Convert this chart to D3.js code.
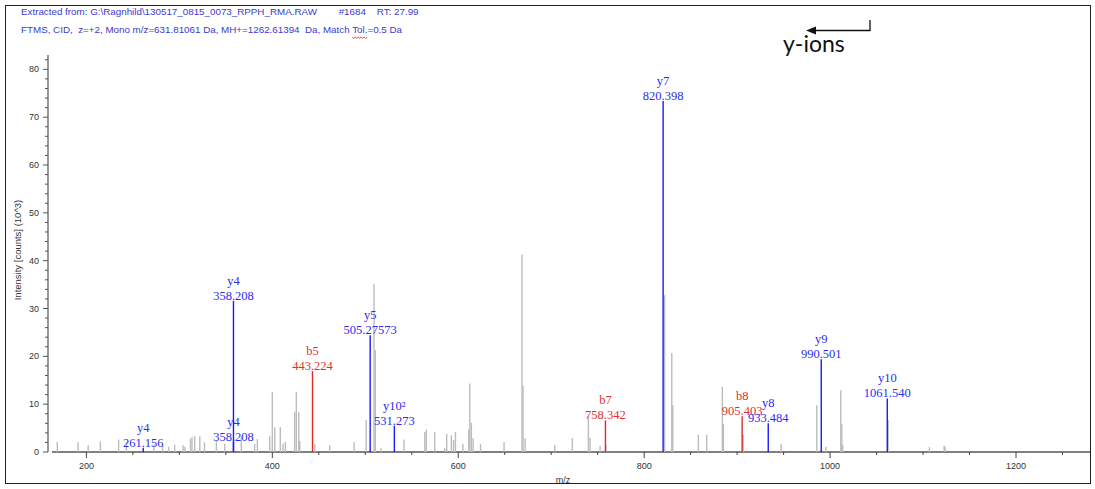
<!DOCTYPE html>
<html>
<head>
<meta charset="utf-8">
<script src="https://cdn.jsdelivr.net/npm/d3@7"></script>
<style>
  html, body { margin: 0; padding: 0; background: #fff; }
  svg { display: block; }
</style>
</head>
<body>
<svg id="chart" width="1095" height="489"></svg>
<script>
// Header lines of the spectrum view
const headerLines = [
  "Extracted from: G:\\Ragnhild\\130517_0815_0073_RPPH_RMA.RAW        #1684    RT: 27.99",
  "FTMS, CID,  z=+2, Mono m/z=631.81061 Da, MH+=1262.61394  Da, Match Tol.=0.5 Da"
];

// Unassigned peaks (m/z, intensity in 10^3 counts)
const peakMz = [168.7, 191, 202, 215, 234.7, 243, 272.7, 282, 288.5, 295, 304, 306, 312, 313.6, 316.5, 322, 327,
  339.8, 348.8, 366.6, 381, 383.9, 397.2, 400, 402.6, 408.6, 411.5, 414, 424, 425.8, 428.4, 429.5, 445.6,
  461.7, 488, 501, 509.4, 510.8, 517, 541.7, 564, 565.7, 574.7, 585.5, 587.6, 592.6, 595, 597, 605,
  611.3, 612.4, 614.1, 616, 624, 649.3, 668.6, 669.7, 672, 703.8, 722.7, 740, 741.8, 752.6, 758.8,
  822, 829.7, 830.8, 858.3, 867.3, 884.1, 885.2, 906.5, 947.3, 985.7, 995.4, 1011.5, 1012.6, 1013.6,
  1062.5, 1106.8, 1122.7, 1123.8];
const peakIntensity = [2.1, 2.1, 1.4, 2.2, 2.6, 2.1, 1.6, 1.4, 1.1, 1.5, 1.4, 1.1, 2.8, 3.1, 3.3, 3.3, 2.0,
  2.4, 1.7, 3.3, 1.7, 2.7, 3.3, 12.5, 5.2, 5.2, 1.7, 2.1, 8.4, 12.6, 8.4, 2.3, 1.7,
  1.4, 2.1, 6.7, 35.2, 21.3, 0.8, 2.6, 4.2, 4.7, 4.2, 0.8, 3.8, 3.5, 2.5, 4.2, 1.7,
  4.7, 14.3, 6.1, 2.9, 1.7, 2.1, 41.3, 13.8, 2.9, 1.4, 2.9, 7.6, 3.0, 1.3, 1.5,
  32.8, 20.7, 9.8, 3.6, 3.6, 13.6, 5.9, 3.6, 1.7, 9.8, 1.1, 12.9, 5.9, 1.5,
  6.7, 1.0, 1.3, 1.1];

// Assigned fragment ions
const ionNames = ["y4", "y4", "y4", "b5", "y5", "y10\u00B2", "b7", "y7", "b8", "y8", "y9", "y10"];
const ionMzText = ["261.156", "358.208", "358.208", "443.224", "505.27573", "531.273", "758.342", "820.398", "905.403", "933.484", "990.501", "1061.540"];
const ionMz = ionMzText.map(Number);
const ionIntensity = [0.9, 2.1, 31.6, 16.9, 24.4, 5.5, 6.6, 73.4, 7.5, 6.0, 19.4, 11.2];

// Axis ticks
const xTickValues = [200, 400, 600, 800, 1000, 1200];
const yTickValues = [0, 10, 20, 30, 40, 50, 60, 70, 80];

const svg = d3.select("#chart");

const x = d3.scaleLinear().domain([163, 1279.6]).range([52, 1090]);
const y = d3.scaleLinear().domain([0, 83]).range([452, 55]);

// outer frame
svg.append("rect")
  .attr("x", 5.5).attr("y", 5.5)
  .attr("width", 1085).attr("height", 478)
  .attr("fill", "none").attr("stroke", "#222").attr("stroke-width", 1);

// header
const header = svg.selectAll("text.header")
  .data(headerLines)
  .join("text")
  .attr("class", "header")
  .attr("x", 21)
  .attr("y", (d, i) => 15 + i * 18)
  .attr("font-family", "Liberation Sans, Arial, sans-serif")
  .attr("font-size", 9.8)
  .attr("fill", "#3a3ad0")
  .style("white-space", "pre")
  .attr("xml:space", "preserve")
  .text(d => d);

// spell-check squiggle under "Tol."
{
  const node = header.nodes()[1];
  const idx = headerLines[1].indexOf("Tol.");
  const x0 = node.getStartPositionOfChar(idx).x;
  const w = node.getSubStringLength(idx, 4);
  let p = `M${x0},37`;
  const n = Math.max(2, Math.round(w / 1.5));
  for (let i = 0; i < n; i++) p += ` l1.5,${i % 2 ? -1.4 : 1.4}`;
  svg.append("path").attr("d", p).attr("fill", "none").attr("stroke", "#e02020").attr("stroke-width", 0.8);
}

// "y-ions" note with arrow
svg.append("text")
  .attr("x", 783).attr("y", 52)
  .attr("font-family", "Lato, Open Sans, sans-serif")
  .attr("font-size", 23)
  .attr("fill", "#111")
  .text("y-ions");
svg.append("path")
  .attr("d", "M870,20 V30.5 H815")
  .attr("fill", "none").attr("stroke", "#111").attr("stroke-width", 1.3);
svg.append("path")
  .attr("d", "M806,30.5 L816,26.5 L816,34.5 Z")
  .attr("fill", "#111");

// y axis
const yAxisG = svg.append("g").attr("transform", "translate(48,0)");
yAxisG.append("line").attr("y1", 55).attr("y2", 452).attr("stroke", "#555").attr("stroke-width", 1.2);
yAxisG.selectAll("line.minor")
  .data(d3.range(0, 83, 2))
  .join("line")
  .attr("class", "minor")
  .attr("x1", d => d % 10 === 0 ? -5 : -3).attr("x2", 0)
  .attr("y1", d => y(d)).attr("y2", d => y(d))
  .attr("stroke", "#555").attr("stroke-width", 1);
yAxisG.selectAll("text")
  .data(yTickValues)
  .join("text")
  .attr("x", -9).attr("y", d => y(d) + 3)
  .attr("text-anchor", "end")
  .attr("font-family", "Liberation Sans, Arial, sans-serif")
  .attr("font-size", 9)
  .attr("fill", "#333")
  .text(d => d);

svg.append("text")
  .attr("transform", "translate(21,250) rotate(-90)")
  .attr("text-anchor", "middle")
  .attr("font-family", "Liberation Sans, Arial, sans-serif")
  .attr("font-size", 9.5)
  .attr("fill", "#333")
  .text("Intensity [counts] (10^3)");

// x axis
const xAxisG = svg.append("g");
xAxisG.append("line").attr("x1", 52).attr("x2", 1090).attr("y1", 452).attr("y2", 452)
  .attr("stroke", "#555").attr("stroke-width", 1.4);
xAxisG.selectAll("line.tick")
  .data(d3.range(200, 1280, 50))
  .join("line")
  .attr("class", "tick")
  .attr("x1", d => x(d)).attr("x2", d => x(d))
  .attr("y1", 452).attr("y2", d => d % 200 === 0 ? 458 : 455)
  .attr("stroke", "#444").attr("stroke-width", 1);
xAxisG.selectAll("text")
  .data(xTickValues)
  .join("text")
  .attr("x", d => x(d)).attr("y", 469)
  .attr("text-anchor", "middle")
  .attr("font-family", "Liberation Sans, Arial, sans-serif")
  .attr("font-size", 9)
  .attr("fill", "#333")
  .text(d => d);
svg.append("text")
  .attr("x", 563).attr("y", 483)
  .attr("text-anchor", "middle")
  .attr("font-family", "Liberation Sans, Arial, sans-serif")
  .attr("font-size", 9)
  .attr("fill", "#333")
  .text("m/z");

// unassigned peaks
svg.append("g").selectAll("line")
  .data(peakMz.map((m, i) => ({ m, v: peakIntensity[i] })))
  .join("line")
  .attr("x1", d => x(d.m)).attr("x2", d => x(d.m))
  .attr("y1", y(0)).attr("y2", d => y(d.v))
  .attr("stroke", "#bcbcbc").attr("stroke-width", 1.4);

// assigned ions
const ions = ionNames.map((n, i) => ({ name: n, mz: ionMz[i], text: ionMzText[i], v: ionIntensity[i] }));
const ionColor = d => d.name[0] === "b" ? "#e02a2a" : "#1a1aff";
const ionTextColor = d => d.name[0] === "b" ? "#e03030" : "#2c2cf0";

svg.append("g").selectAll("line")
  .data(ions)
  .join("line")
  .attr("x1", d => x(d.mz)).attr("x2", d => x(d.mz))
  .attr("y1", y(0)).attr("y2", d => y(d.v))
  .attr("stroke", ionColor).attr("stroke-width", 1.4);

const lab = svg.append("g").selectAll("g")
  .data(ions)
  .join("g")
  .attr("transform", d => `translate(${x(d.mz)},${y(d.v) - 1})`)
  .attr("font-family", "Liberation Serif, Times New Roman, serif")
  .attr("font-size", 12.5)
  .attr("text-anchor", "middle")
  .attr("fill", ionTextColor);
lab.append("text").attr("y", 0).text(d => d.text);
lab.append("text").attr("y", -15).text(d => d.name);
</script>
</body>
</html>
